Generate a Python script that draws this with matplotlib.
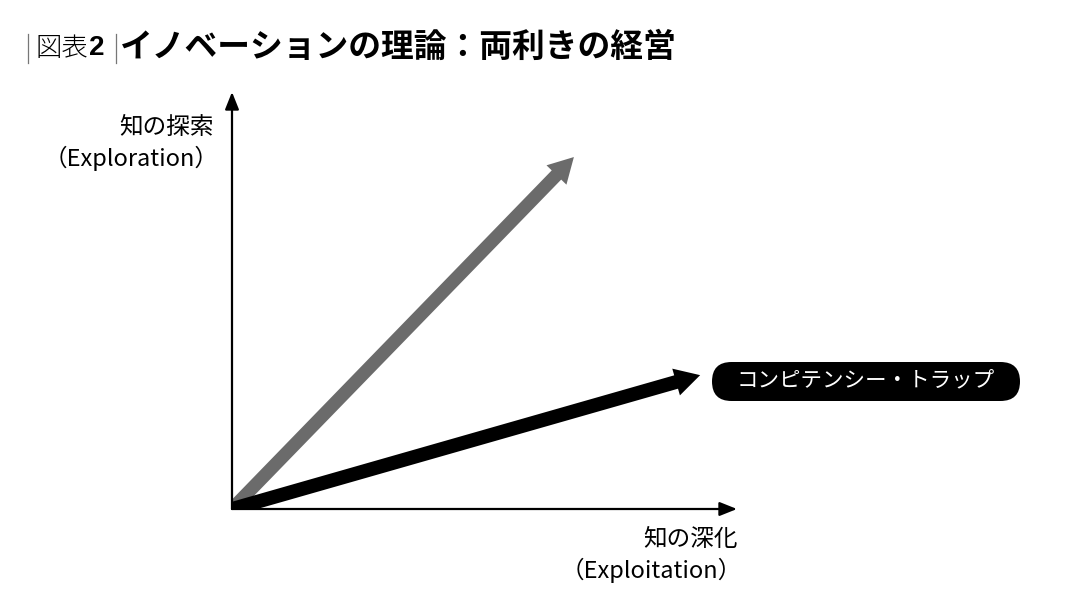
import matplotlib
matplotlib.use("Agg")
from matplotlib import pyplot as plt
from matplotlib.lines import Line2D
from matplotlib.patches import FancyBboxPatch
from matplotlib.transforms import IdentityTransform

plt.rcParams['font.family'] = ['Noto Sans CJK JP', 'DejaVu Sans']

# data: vector end points in axis units (origin = 0,0 ; axis tips = 1)
vector_names = ['探索', 'コンピテンシー・トラップ']
vector_x = [0.677, 0.927]
vector_y = [0.844, 0.321]

title_prefix = '図表'
title_num = '2'
title_main = 'イノベーションの理論：両利きの経営'
y_label = ['知の探索', '（Exploration）']
x_label = ['知の深化', '（Exploitation）']
trap_label = 'コンピテンシー・トラップ'

W, H = 1080, 607
fig = plt.figure(figsize=(W / 100, H / 100), dpi=100)


def fx(px):
    return px / W


def fy(py):
    return 1 - py / H


# axes box: origin at (232, 509), axis tips at (737, 92)
ax = fig.add_axes([fx(232), fy(509), fx(737) - fx(232), fy(92) - fy(509)])
ax.set_xlim(0, 1)
ax.set_ylim(0, 1)
ax.axis('off')

# thick vectors (clipped to the first quadrant)
colors = ['#6b6b6b', '#000000']
tails = [9.5, 10]
for x, y, c, tw in zip(vector_x, vector_y, colors, tails):
    ann = ax.annotate('', xy=(x, y), xytext=(0, 0),
                      arrowprops=dict(arrowstyle='simple,head_length=18,head_width=20,tail_width=%s' % tw,
                                      mutation_scale=1, fc=c, ec='none',
                                      shrinkA=0, shrinkB=0),
                      annotation_clip=False)
    ann.arrow_patch.set_clip_on(True)
    ann.arrow_patch.set_clip_box(ax.bbox)

# axes with arrow heads
for tip in [(1, 0), (0, 1)]:
    ax.annotate('', xy=tip, xytext=(0, 0),
                arrowprops=dict(arrowstyle='-|>,head_length=0.75,head_width=0.3',
                                color='black', lw=1.6, shrinkA=0, shrinkB=0,
                                mutation_scale=14),
                annotation_clip=False)

# axis labels
fs = 17
fig.text(fx(214), fy(128), y_label[0], ha='right', va='center', fontsize=fs)
fig.text(fx(219), fy(158), y_label[1], ha='right', va='center', fontsize=fs)
fig.text(fx(738), fy(540), x_label[0], ha='right', va='center', fontsize=fs)
fig.text(fx(742), fy(570), x_label[1], ha='right', va='center', fontsize=fs)

# pill label
pill = FancyBboxPatch((712, H - 401), 308, 39,
                      boxstyle='round,pad=0,rounding_size=19.5',
                      fc='black', ec='none', transform=IdentityTransform())
fig.add_artist(pill)
fig.text(fx(866), fy(381), trap_label, ha='center', va='center', fontsize=15.5,
         color='white')

# title
fig.add_artist(Line2D([fx(28), fx(28)], [fy(34), fy(63)], color='#777777', lw=0.9))
fig.add_artist(Line2D([fx(116), fx(116)], [fy(34), fy(63)], color='#777777', lw=0.9))
fig.text(fx(35), fy(48), title_prefix, ha='left', va='center', fontsize=19, fontweight='light')
fig.text(fx(89), fy(48), title_num, ha='left', va='center', fontsize=20, fontweight='bold',
         family=['Liberation Sans', 'DejaVu Sans'])
fig.text(fx(120), fy(47), title_main, ha='left', va='center', fontsize=23.6, fontweight='bold')

fig.savefig('out.png', dpi=100, facecolor='white')
